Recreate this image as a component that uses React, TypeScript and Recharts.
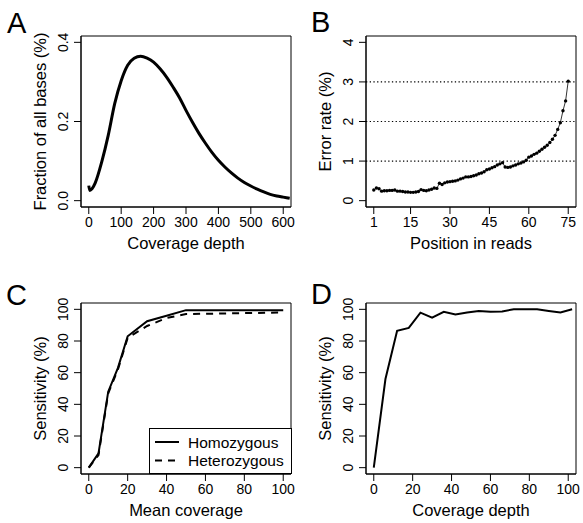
import React from 'react';
import {
  LineChart,
  Line,
  XAxis,
  YAxis,
  ReferenceArea,
  ReferenceLine,
} from 'recharts';

const FONT = '"Liberation Sans", Arial, Helvetica, sans-serif';

// A: coverage depth distribution
const depthA = [0, 3, 10, 20, 40, 60, 80, 100, 120, 140, 160, 180, 200, 220, 240, 260, 280, 300, 320, 340, 360, 380, 400, 420, 440, 460, 480, 500, 520, 540, 560, 580, 600, 620];
const fractionA = [0.038, 0.026, 0.03, 0.045, 0.098, 0.165, 0.245, 0.303, 0.342, 0.36, 0.365, 0.36, 0.35, 0.333, 0.312, 0.287, 0.26, 0.228, 0.198, 0.17, 0.145, 0.122, 0.102, 0.085, 0.07, 0.057, 0.046, 0.037, 0.029, 0.022, 0.016, 0.012, 0.009, 0.006];

// B: error rate per read position
const positionB = [1, 2, 3, 4, 5, 6, 7, 8, 9, 10, 11, 12, 13, 14, 15, 16, 17, 18, 19, 20, 21, 22, 23, 24, 25, 26, 27, 28, 29, 30, 31, 32, 33, 34, 35, 36, 37, 38, 39, 40, 41, 42, 43, 44, 45, 46, 47, 48, 49, 50, 51, 52, 53, 54, 55, 56, 57, 58, 59, 60, 61, 62, 63, 64, 65, 66, 67, 68, 69, 70, 71, 72, 73, 74, 75];
const errorB = [0.27, 0.32, 0.3, 0.24, 0.25, 0.25, 0.26, 0.26, 0.27, 0.24, 0.24, 0.23, 0.22, 0.22, 0.21, 0.21, 0.22, 0.23, 0.28, 0.26, 0.25, 0.27, 0.29, 0.32, 0.31, 0.44, 0.41, 0.45, 0.47, 0.48, 0.49, 0.5, 0.52, 0.55, 0.57, 0.6, 0.6, 0.61, 0.63, 0.65, 0.68, 0.7, 0.73, 0.78, 0.8, 0.83, 0.86, 0.9, 0.93, 0.96, 0.85, 0.84, 0.85, 0.88, 0.9, 0.93, 0.95, 0.98, 1.02, 1.1, 1.13, 1.17, 1.2, 1.25, 1.3, 1.35, 1.4, 1.47, 1.55, 1.65, 1.8, 1.97, 2.27, 2.52, 3.02];

// C: sensitivity vs mean coverage
const coverageC = [0, 5, 10, 15, 20, 30, 40, 50, 100];
const homozygousC = [0, 9, 48, 63, 83, 92.5, 96, 99.5, 99.5];
const heterozygousC = [0, 8, 47, 62, 82, 89.5, 94.5, 97, 98];

// D: sensitivity vs coverage depth
const depthD = [0, 6, 12, 18, 24, 30, 36, 42, 48, 54, 60, 66, 72, 78, 84, 90, 96, 102];
const sensitivityD = [0, 56, 86.5, 88.3, 97.9, 94.7, 98.4, 96.7, 98, 99, 98.5, 98.7, 100, 100, 100, 99, 98, 100];

const ticksA = { x: [0, 100, 200, 300, 400, 500, 600], y: [0, 0.2, 0.4] };
const ticksB = { x: [1, 15, 30, 45, 60, 75], y: [0, 1, 2, 3, 4] };
const ticksCD = { x: [0, 20, 40, 60, 80, 100], y: [0, 20, 40, 60, 80, 100] };

const pad = (lo: number, hi: number): [number, number] => {
  const d = (hi - lo) * 0.04;
  return [lo - d, hi + d];
};

type Series = { key: string; width: number; dash?: string; curve?: 'monotone' | 'linear'; dot?: boolean };

interface PanelProps {
  left: number;
  top: number;
  width: number;
  height: number;
  marginTop: number;
  marginRight: number;
  yWidth: number;
  xHeight: number;
  data: Record<string, number>[];
  series: Series[];
  xDomain: [number, number];
  yDomain: [number, number];
  xTicks: number[];
  yTicks: number[];
  yFmt: (v: number) => string;
  xTitle: string;
  yTitle: string;
  hLines?: number[];
}

function Panel(p: PanelProps) {
  const yTick = (t: any) => (
    <text
      transform={`translate(${t.x},${t.y}) rotate(-90)`}
      textAnchor="middle"
      fontSize={14}
      fontFamily={FONT}
      fill="#000"
    >
      {p.yFmt(t.payload.value)}
    </text>
  );
  return (
    <div style={{ position: 'absolute', left: p.left, top: p.top }}>
      <LineChart
        width={p.width}
        height={p.height}
        data={p.data}
        margin={{ top: p.marginTop, right: p.marginRight, left: 0, bottom: 0 }}
      >
        <XAxis
          type="number"
          dataKey="x"
          domain={p.xDomain}
          ticks={p.xTicks}
          allowDataOverflow
          height={p.xHeight}
          tickSize={7}
          tickMargin={3}
          interval={0}
          stroke="#000"
          tick={{ fontSize: 14, fill: '#000', fontFamily: FONT }}
          label={{
            content: (l: any) => (
              <text
                x={l.viewBox.x + l.viewBox.width / 2}
                y={l.viewBox.y + 42}
                textAnchor="middle"
                fontSize={16.5}
                fontFamily={FONT}
                fill="#000"
              >
                {p.xTitle}
              </text>
            ),
          }}
        />
        <YAxis
          type="number"
          domain={p.yDomain}
          ticks={p.yTicks}
          allowDataOverflow
          width={p.yWidth}
          tickSize={7}
          tickMargin={6}
          interval={0}
          stroke="#000"
          tick={yTick}
          label={{
            content: (l: any) => {
              const cx = l.viewBox.x + l.viewBox.width - 35;
              const cy = l.viewBox.y + l.viewBox.height / 2;
              return (
                <text
                  transform={`translate(${cx},${cy}) rotate(-90)`}
                  textAnchor="middle"
                  fontSize={16.5}
                  fontFamily={FONT}
                  fill="#000"
                >
                  {p.yTitle}
                </text>
              );
            },
          }}
        />
        {(p.hLines || []).map((v) => (
          <ReferenceLine key={v} y={v} stroke="#000" strokeWidth={1.2} strokeDasharray="1.3 2.4" />
        ))}
        {p.series.map((s) => (
          <Line
            key={s.key}
            dataKey={s.key}
            type={s.curve || 'linear'}
            stroke="#000"
            strokeWidth={s.width}
            strokeDasharray={s.dash}
            dot={s.dot ? { r: 1.7, fill: '#000', stroke: 'none' } : false}
            activeDot={false}
            isAnimationActive={false}
          />
        ))}
        <ReferenceArea
          x1={p.xDomain[0]}
          x2={p.xDomain[1]}
          y1={p.yDomain[0]}
          y2={p.yDomain[1]}
          fill="none"
          stroke="#000"
          strokeWidth={1}
          fillOpacity={0}
          ifOverflow="visible"
        />
      </LineChart>
    </div>
  );
}

const dataA = depthA.map((x, i) => ({ x, frac: fractionA[i] }));
const dataB = positionB.map((x, i) => ({ x, err: errorB[i] }));
const dataC = coverageC.map((x, i) => ({ x, hom: homozygousC[i], het: heterozygousC[i] }));
const dataD = depthD.map((x, i) => ({ x, sens: sensitivityD[i] }));

const legendC = [
  { name: 'Homozygous', dash: undefined as string | undefined },
  { name: 'Heterozygous', dash: '7 6' },
];

export default function App() {
  const int = (v: number) => String(v);
  return (
    <div style={{ position: 'absolute', left: 0, top: 0, width: 583, height: 523, background: '#fff', overflow: 'hidden' }}>
      <Panel
        left={0} top={0} width={295} height={260} marginTop={36} marginRight={4} yWidth={81} xHeight={53}
        data={dataA}
        series={[{ key: 'frac', width: 3, curve: 'monotone' }]}
        xDomain={pad(0, 600)} yDomain={pad(0, 0.4)}
        xTicks={ticksA.x} yTicks={ticksA.y}
        yFmt={(v) => v.toFixed(1)}
        xTitle="Coverage depth" yTitle="Fraction of all bases (%)"
      />
      <Panel
        left={290} top={0} width={293} height={260} marginTop={36} marginRight={7} yWidth={76} xHeight={53}
        data={dataB}
        series={[{ key: 'err', width: 0.8, dot: true }]}
        xDomain={pad(1, 75)} yDomain={pad(0, 4)}
        xTicks={ticksB.x} yTicks={ticksB.y}
        yFmt={int}
        xTitle="Position in reads" yTitle="Error rate (%)"
        hLines={[1, 2, 3]}
      />
      <Panel
        left={0} top={260} width={295} height={263} marginTop={43} marginRight={4} yWidth={81} xHeight={49}
        data={dataC}
        series={[
          { key: 'hom', width: 2 },
          { key: 'het', width: 2, dash: '7 6' },
        ]}
        xDomain={pad(0, 100)} yDomain={pad(0, 100)}
        xTicks={ticksCD.x} yTicks={ticksCD.y}
        yFmt={int}
        xTitle="Mean coverage" yTitle="Sensitivity (%)"
      />
      <Panel
        left={290} top={260} width={293} height={263} marginTop={43} marginRight={7} yWidth={76} xHeight={49}
        data={dataD}
        series={[{ key: 'sens', width: 2 }]}
        xDomain={pad(0, 100)} yDomain={pad(0, 100)}
        xTicks={ticksCD.x} yTicks={ticksCD.y}
        yFmt={int}
        xTitle="Coverage depth" yTitle="Sensitivity (%)"
      />
      <svg width={583} height={523} style={{ position: 'absolute', left: 0, top: 0, pointerEvents: 'none' }}>
        <g fontFamily={FONT} fill="#000">
          <text x={7} y={33} fontSize={29}>A</text>
          <text x={311} y={32} fontSize={29}>B</text>
          <text x={6} y={305} fontSize={29}>C</text>
          <text x={311} y={304} fontSize={29}>D</text>
        </g>
        <rect x={149.5} y={428.5} width={142} height={45} fill="#fff" stroke="#000" strokeWidth={1} />
        {legendC.map((e, i) => (
          <g key={e.name}>
            <line x1={155} x2={179} y1={442 + i * 18.5} y2={442 + i * 18.5} stroke="#000" strokeWidth={2} strokeDasharray={e.dash} />
            <text x={188} y={447.5 + i * 18.5} fontSize={15.5} fontFamily={FONT} fill="#000">{e.name}</text>
          </g>
        ))}
      </svg>
    </div>
  );
}
